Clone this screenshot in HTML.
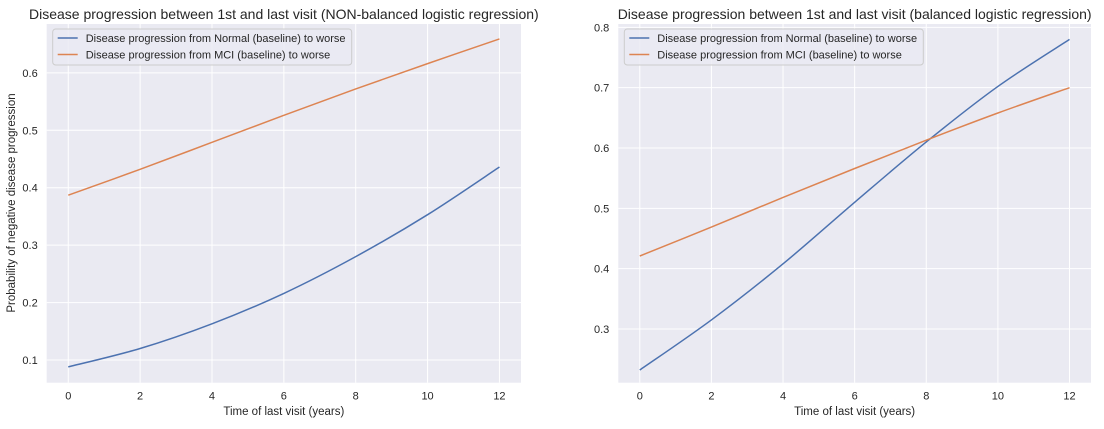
<!DOCTYPE html>
<html><head><meta charset="utf-8"><style>
body{margin:0;background:#fff;}
svg text{font-family:"Liberation Sans",sans-serif;fill:#262626;}
</style></head><body>
<svg id="chart" width="1104" height="424" xmlns="http://www.w3.org/2000/svg"></svg>
<script>
const xTicks=[0,2,4,6,8,10,12];
const years=[0,2,4,6,8,10,12];
const leftNormal=[0.088,0.120,0.163,0.216,0.280,0.353,0.436];
const leftMCI=[0.387,0.432,0.479,0.526,0.572,0.616,0.659];
const rightNormal=[0.232,0.315,0.408,0.510,0.610,0.702,0.780];
const rightMCI=[0.421,0.469,0.518,0.566,0.613,0.658,0.700];
const leftYTicks=[0.1,0.2,0.3,0.4,0.5,0.6];
const rightYTicks=[0.3,0.4,0.5,0.6,0.7,0.8];
const seriesNames=["Disease progression from Normal (baseline) to worse","Disease progression from MCI (baseline) to worse"];
const NS="http://www.w3.org/2000/svg";
const svg=document.getElementById('chart');
function mk(tag,attrs,parent){const e=document.createElementNS(NS,tag);for(const k in attrs)e.setAttribute(k,attrs[k]);(parent||svg).appendChild(e);return e;}
function panel(cfg){
  const g=mk('g',{});
  
  
  const {L,R,T,B,x0,x1,y0,y1}=cfg;
  const sx=v=>L+(v-x0)/(x1-x0)*(R-L);
  const sy=v=>B-(v-y0)/(y1-y0)*(B-T);
  const bg=mk('rect',{x:L,y:T,width:R-L,height:B-T,fill:'#eaeaf2'},g);
  
  
  xTicks.forEach(t=>{
    mk('line',{x1:sx(t),x2:sx(t),y1:T,y2:B,stroke:'#fff','stroke-width':1},g);
    const tx=mk('text',{x:sx(t),y:B+17,'font-size':11,'text-anchor':'middle'},g);tx.textContent=t;
    
    
  });
  cfg.yTicks.forEach(t=>{
    mk('line',{x1:L,x2:R,y1:sy(t),y2:sy(t),stroke:'#fff','stroke-width':1},g);
    const tx=mk('text',{x:L-9,y:sy(t)+4,'font-size':11,'text-anchor':'end'},g);tx.textContent=t.toFixed(1);
    
    
  });
  [[cfg.normal,'#4c72b0','normal-line'],[cfg.mci,'#dd8452','mci-line']].forEach(([vals,col,nm])=>{
    const p=years.map((x,i)=>[sx(x),sy(vals[i])]);
    let d='M'+p[0][0]+','+p[0][1];
    for(let i=0;i<p.length-1;i++){
      const a=p[Math.max(0,i-1)],b=p[i],c=p[i+1],e=p[Math.min(p.length-1,i+2)];
      d+=' C'+(b[0]+(c[0]-a[0])/6)+','+(b[1]+(c[1]-a[1])/6)+' '+(c[0]-(e[0]-b[0])/6)+','+(c[1]-(e[1]-b[1])/6)+' '+c[0]+','+c[1];
    }
    const path=mk('path',{d:d,fill:'none',stroke:col,'stroke-width':1.5},g);
    
    
  });
  const tt=mk('text',{x:(L+R)/2,y:19,'font-size':14,'text-anchor':'middle'},g);tt.textContent=cfg.title;
  
  
  const xl=mk('text',{x:(L+R)/2,y:415,'font-size':11.5,'text-anchor':'middle'},g);xl.textContent='Time of last visit (years)';
  
  
  const lg=mk('g',{},g);
  
  
  const lx=L+6;
  mk('rect',{x:lx,y:29,width:cfg.legW,height:36,rx:3,fill:'#eaeaf2',stroke:'#cccccc','stroke-width':1,'fill-opacity':0.8},lg);
  [['#4c72b0',0],['#dd8452',1]].forEach(([c,i])=>{
    const yy=38+i*16.5;
    mk('line',{x1:lx+5,x2:lx+25,y1:yy,y2:yy,stroke:c,'stroke-width':1.5},lg);
    const t=mk('text',{x:lx+33,y:yy+4,'font-size':11},lg);t.textContent=seriesNames[i];
    
    
  });
}
panel({name:'left-panel',L:46.7,R:521,T:24,B:382.7,x0:-0.6,x1:12.6,y0:0.0605,y1:0.685,yTicks:leftYTicks,normal:leftNormal,mci:leftMCI,legW:299,title:'Disease progression between 1st and last visit (NON-balanced logistic regression)'});
panel({name:'right-panel',L:618.3,R:1091,T:24,B:382.7,x0:-0.6,x1:12.6,y0:0.211,y1:0.8055,yTicks:rightYTicks,normal:rightNormal,mci:rightMCI,legW:299,title:'Disease progression between 1st and last visit (balanced logistic regression)'});
const yl=mk('text',{x:0,y:0,'font-size':11.5,'text-anchor':'middle',transform:'translate(15,203) rotate(-90)'});
yl.textContent='Probability of negative disease progression';


</script>
</body></html>
